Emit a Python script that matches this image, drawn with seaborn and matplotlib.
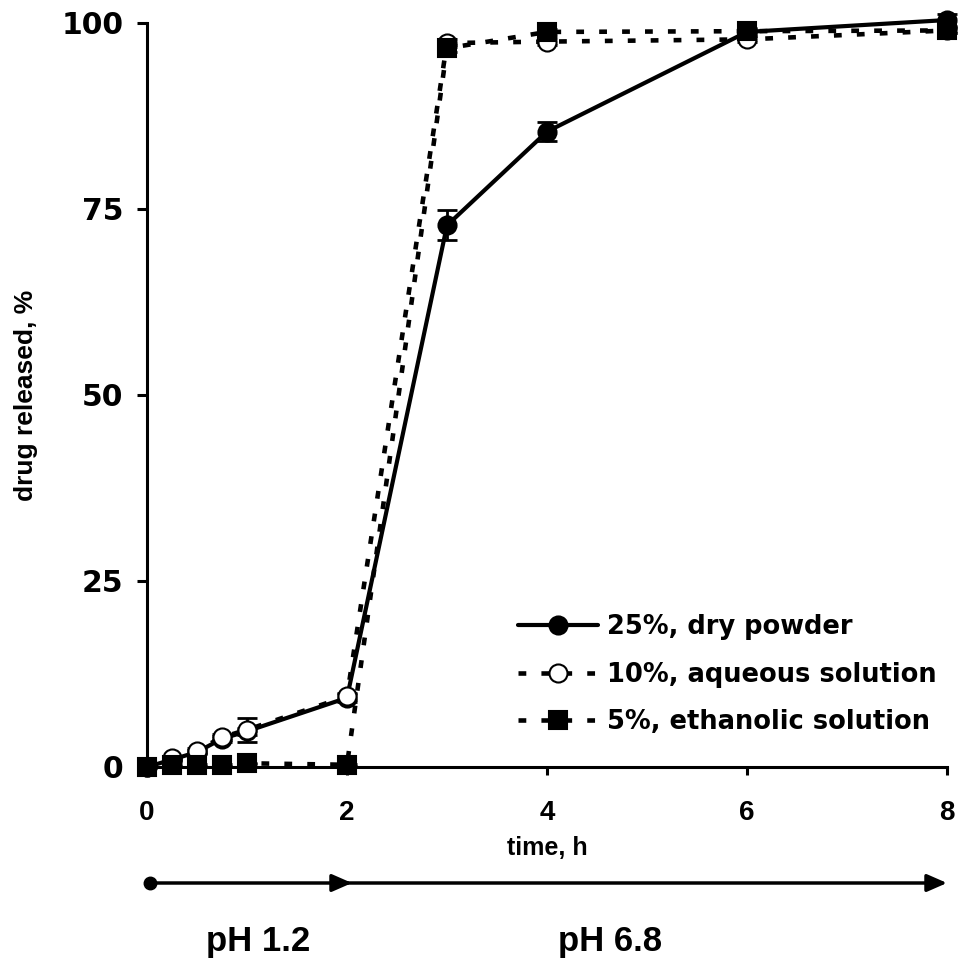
import numpy as np
import pandas as pd
import matplotlib
matplotlib.use("Agg")
import matplotlib.pyplot as plt
import matplotlib.transforms as mtransforms
from matplotlib.lines import Line2D
import seaborn as sns

# Sampling times (h)
time_h = [0, 0.25, 0.5, 0.75, 1, 2, 3, 4, 6, 8]

# Cumulative drug release (%) and SD for each formulation
dry_powder = [0, 1.0, 2.0, 3.8, 4.8, 9.3, 72.8, 85.4, 98.8, 100.4]
dry_powder_sd = [0, 0.2, 0.3, 0.4, 0.5, 0.5, 2.0, 1.3, 0.5, 0.8]

aqueous = [0, 1.2, 2.2, 4.0, 5.0, 9.5, 97.3, 97.5, 97.8, 99.0]
aqueous_sd = [0, 0.2, 0.3, 0.4, 1.6, 0.5, 0.5, 0.5, 0.4, 0.4]

ethanolic = [0, 0.3, 0.3, 0.3, 0.5, 0.3, 96.6, 98.8, 98.9, 99.0]
ethanolic_sd = [0, 0.1, 0.1, 0.1, 0.1, 0.1, 0.5, 0.4, 0.3, 0.3]

series_labels = ["25%, dry powder", "10%, aqueous solution", "5%, ethanolic solution"]
x_ticks = [0, 2, 4, 6, 8]
y_ticks = [0, 25, 50, 75, 100]
phase_labels = ["pH 1.2", "pH 6.8"]

sns.set_style("ticks")
plt.rcParams["font.family"] = ["Liberation Sans", "DejaVu Sans"]
plt.rcParams["font.weight"] = "bold"
for key in ["text.color", "axes.labelcolor", "xtick.color", "ytick.color",
            "axes.edgecolor"]:
    plt.rcParams[key] = "black"

fig = plt.figure(figsize=(9.59, 9.58), dpi=100)
ax = fig.add_axes([147 / 959, 1 - 767 / 958, 800 / 959, 744 / 958])

LW = 3.0
dash = (0, (1.7, 3.3))
styles = [
    dict(marker="o", markerfacecolor="black", linestyle="-", lw=LW),
    dict(marker="o", markerfacecolor="white", linestyle=dash, lw=LW + 0.3),
    dict(marker="s", markerfacecolor="black", linestyle=dash, lw=LW + 0.3),
]
values = [dry_powder, aqueous, ethanolic]
sds = [dry_powder_sd, aqueous_sd, ethanolic_sd]
sizes = [13, 13, 12.5]

handles = []
for i, (vals, sd, st, lab) in enumerate(zip(values, sds, styles, series_labels)):
    df = pd.DataFrame({"time": time_h, "released": vals})
    ax.errorbar(time_h, vals, yerr=sd, fmt="none", ecolor="black",
                elinewidth=2, capsize=7, capthick=2, zorder=2 + i * 2, clip_on=False)
    sns.lineplot(data=df, x="time", y="released", ax=ax, color="black",
                 markersize=sizes[i], markeredgecolor="black",
                 markeredgewidth=1.5, clip_on=False, zorder=3 + i * 2,
                 legend=False, **st)
    handles.append(Line2D([], [], color="black", markersize=sizes[i],
                          markeredgecolor="black", markeredgewidth=1.5, **st))

ax.set_xlim(0, 8)
ax.set_ylim(0, 100)
ax.set_xticks(x_ticks)
ax.set_yticks(y_ticks)
ax.tick_params(axis="x", labelsize=20, width=2.2, length=6, pad=18)
ax.tick_params(axis="y", labelsize=21.5, width=2.2, length=7, pad=10)
for lab in ax.get_yticklabels():
    lab.set_fontfamily("DejaVu Sans")
    lab.set_fontweight("bold")
for lab in ax.get_xticklabels():
    lab.set_fontweight("bold")
for side in ["left", "bottom"]:
    ax.spines[side].set_linewidth(2.2)
sns.despine(ax=ax)

ax.set_xlabel("time, h", fontsize=18, fontweight="bold", labelpad=7)
ax.set_ylabel("drug released, %", fontsize=19, fontweight="bold", labelpad=17)

leg = ax.legend(handles, series_labels, frameon=False, loc="upper left",
                bbox_to_anchor=(518 / 959, 1 - 614 / 958),
                bbox_transform=fig.transFigure, borderpad=0, borderaxespad=0,
                handlelength=3.1, handletextpad=0.35, labelspacing=0.84,
                prop={"family": "DejaVu Sans", "weight": "bold", "size": 18.5})

# pH timeline below the time axis
trans = mtransforms.blended_transform_factory(ax.transData, ax.transAxes)
y_line = (767 - 883) / 744
arrow = dict(arrowstyle="-|>,head_length=0.8,head_width=0.35", lw=2.5,
             color="black", mutation_scale=15, shrinkA=0, shrinkB=0)
ax.annotate("", xy=(2.05, y_line), xytext=(0.03, y_line), xycoords=trans,
            textcoords=trans, arrowprops=arrow, annotation_clip=False)
ax.annotate("", xy=(8.0, y_line), xytext=(2.0, y_line), xycoords=trans,
            textcoords=trans, arrowprops=arrow, annotation_clip=False)
ax.plot([0.03], [y_line], marker="o", ms=9, color="black", transform=trans,
        clip_on=False)

y_ph = (767 - 941) / 744
ax.text(1.11, y_ph, phase_labels[0], transform=trans, ha="center", va="center",
        fontsize=25, fontweight="bold")
ax.text(4.63, y_ph, phase_labels[1], transform=trans, ha="center", va="center",
        fontsize=25, fontweight="bold")

fig.savefig("out.png", dpi=100)
